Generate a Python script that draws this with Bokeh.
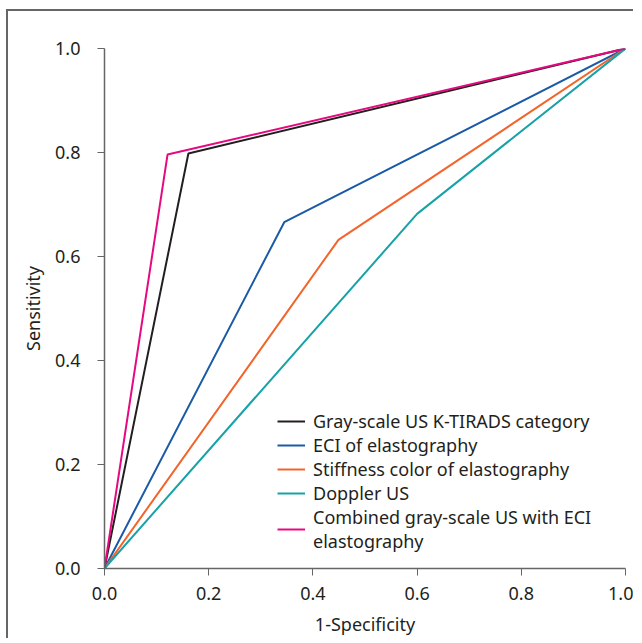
from bokeh.plotting import figure
from bokeh.models import Legend, LegendItem, FixedTicker, CustomJSTickFormatter
from bokeh.embed import file_html
from bokeh.resources import INLINE

series_names = [
    "Gray-scale US K-TIRADS category",
    "ECI of elastography",
    "Stiffness color of elastography",
    "Doppler US",
    "Combined gray-scale US with ECI\nelastography",
]
fpr_gray = [0.0, 0.161, 1.0]
tpr_gray = [0.0, 0.798, 1.0]
fpr_eci = [0.0, 0.345, 1.0]
tpr_eci = [0.0, 0.666, 1.0]
fpr_stiff = [0.0, 0.449, 1.0]
tpr_stiff = [0.0, 0.632, 1.0]
fpr_doppler = [0.0, 0.600, 1.0]
tpr_doppler = [0.0, 0.682, 1.0]
fpr_comb = [0.0, 0.121, 1.0]
tpr_comb = [0.0, 0.796, 1.0]
ticks = [0.0, 0.2, 0.4, 0.6, 0.8, 1.0]

colors = ["#231f20", "#1a5aa6", "#f2652a", "#17a2a8", "#e6097f"]
FONT = "Noto Sans"
FS = "18px"

p = figure(width=627, height=629, output_backend="svg", toolbar_location=None,
           x_range=(0, 1), y_range=(0, 1),
           min_border_left=96, min_border_right=10, min_border_top=37, min_border_bottom=72)
p.styles = {"margin-left": "6px", "margin-top": "9px",
            "border-left": "2px solid #666666", "border-top": "2px solid #666666"}
p.outline_line_color = None
p.grid.visible = False
p.background_fill_color = "white"

data = [(fpr_gray, tpr_gray), (fpr_eci, tpr_eci), (fpr_stiff, tpr_stiff),
        (fpr_doppler, tpr_doppler), (fpr_comb, tpr_comb)]
renderers = []
for (xs, ys), c in zip(data, colors):
    renderers.append(p.line(xs, ys, line_color=c, line_width=2))

fmt = CustomJSTickFormatter(code="return tick.toFixed(1);")
for ax in (p.xaxis[0], p.yaxis[0]):
    ax.ticker = FixedTicker(ticks=ticks)
    ax.formatter = fmt
    ax.minor_tick_line_color = None
    ax.major_tick_out = 7
    ax.major_tick_in = 0
    ax.axis_line_color = "#666666"
    ax.major_tick_line_color = "#666666"
    ax.axis_line_width = 1.5
    ax.major_label_text_font = FONT
    ax.major_label_text_font_size = FS
    ax.major_label_text_color = "#231f20"
    ax.axis_label_text_font = FONT
    ax.axis_label_text_font_size = FS
    ax.axis_label_text_font_style = "normal"
    ax.axis_label_text_color = "#231f20"

p.xaxis.axis_label = "1-Specificity"
p.yaxis.axis_label = "Sensitivity"
p.xaxis.major_label_standoff = 11
p.yaxis.major_label_standoff = 17
p.xaxis.axis_label_standoff = 9
p.yaxis.axis_label_standoff = 7

legend = Legend(items=[LegendItem(label=n, renderers=[r]) for n, r in zip(series_names, renderers)],
                location=(173, 15))
legend.border_line_color = None
legend.background_fill_alpha = 0
legend.padding = 0
legend.margin = 0
legend.spacing = -1
legend.glyph_width = 28
legend.glyph_height = 22
legend.label_height = 22
legend.label_standoff = 8
legend.label_text_font = FONT
legend.label_text_font_size = FS
legend.label_text_color = "#231f20"
p.add_layout(legend, "center")

open("out.html", "w").write(file_html(p, INLINE))
